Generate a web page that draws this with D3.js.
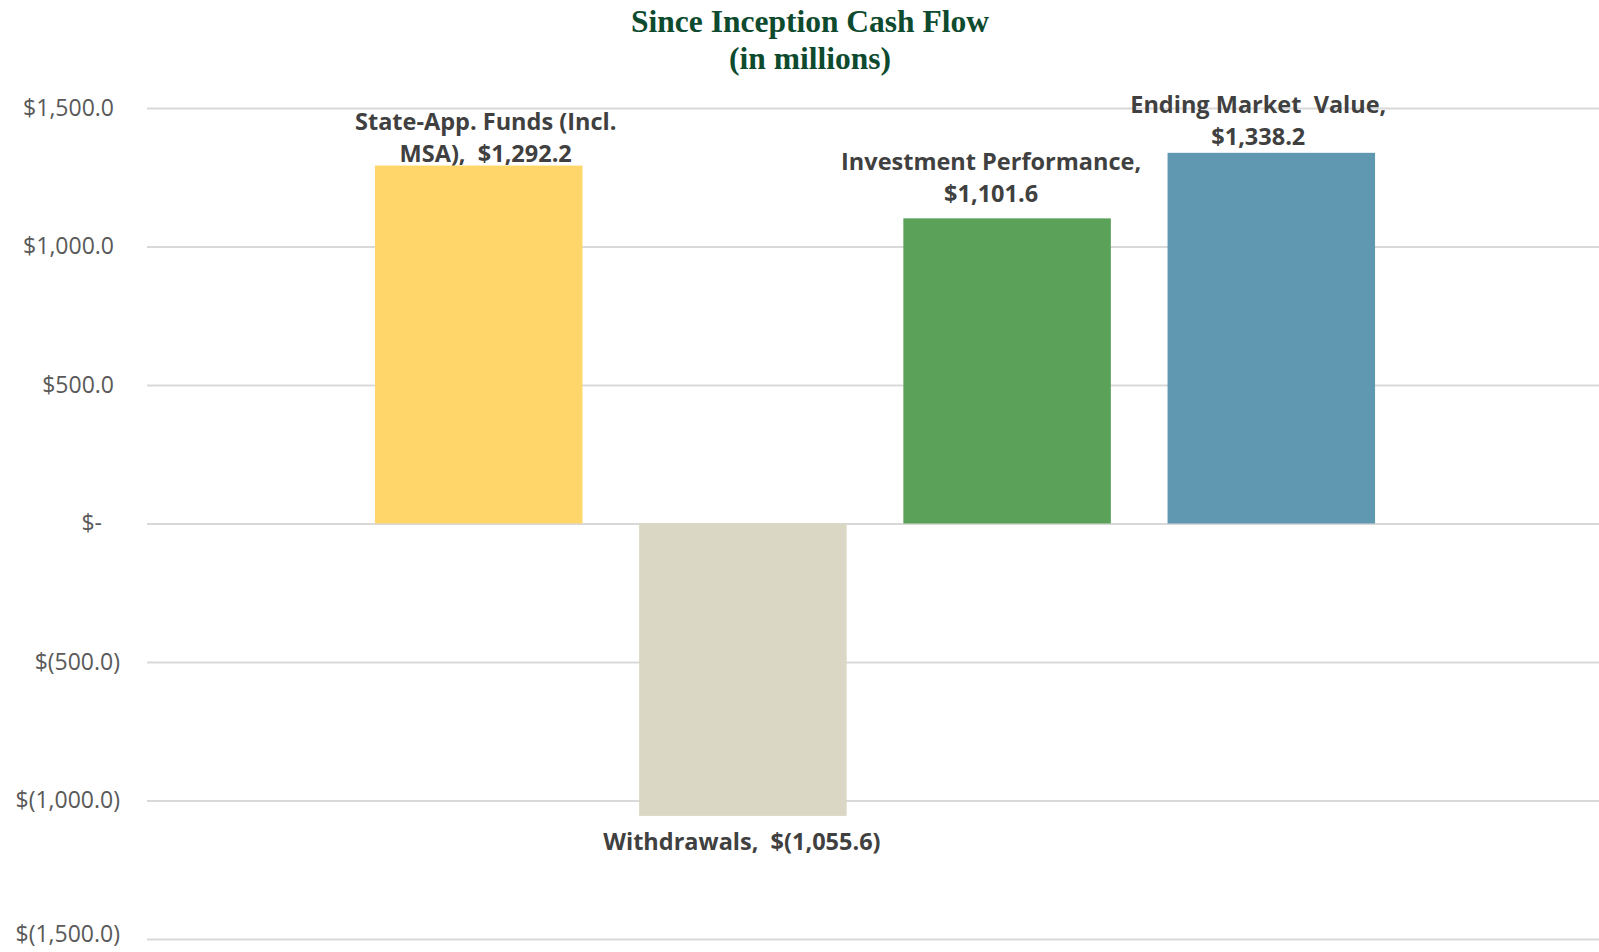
<!DOCTYPE html>
<html>
<head>
<meta charset="utf-8">
<script src="https://cdn.jsdelivr.net/npm/d3@7"></script>
<style>
  html, body { margin: 0; padding: 0; background: #ffffff; }
  svg { display: block; }
  text { white-space: pre; }
</style>
</head>
<body>
<svg id="chart" width="1599" height="952"></svg>
<script>
// Since-inception cash flow components, in millions of dollars
const categories = ["State-App. Funds (Incl. MSA)", "Withdrawals", "Investment Performance", "Ending Market Value"];
const values = [1292.2, -1055.6, 1101.6, 1338.2];
const barColors = ["#FED66A", "#DAD7C4", "#5CA15A", "#6198B1"];
// Data label lines as they are broken in the chart
const labelLines = [
  ["State-App. Funds (Incl.", "MSA),  $1,292.2"],
  ["Withdrawals,  $(1,055.6)"],
  ["Investment Performance,", "$1,101.6"],
  ["Ending Market  Value,", "$1,338.2"]
];
const tickValues = [1500, 1000, 500, 0, -500, -1000, -1500];
const tickLabels = ["$1,500.0", "$1,000.0", "$500.0", "$-", "$(500.0)", "$(1,000.0)", "$(1,500.0)"];
const titleLines = ["Since Inception Cash Flow", "(in millions)"];

const svg = d3.select("#chart");
const plot = { left: 147, right: 1599, top: 108, bottom: 939 };

const y = d3.scaleLinear().domain([-1500, 1500]).range([plot.bottom, plot.top]);
const x = d3.scaleBand().domain(categories)
  .range([346.6, 1403.4]).paddingInner(0.2146).paddingOuter(0.1073);

// Title
svg.append("g").selectAll("text").data(titleLines).join("text")
  .attr("x", 810).attr("y", (d, i) => 31.5 + i * 37)
  .attr("text-anchor", "middle")
  .attr("font-family", "'Liberation Serif', 'DejaVu Serif', serif")
  .attr("font-weight", "bold").attr("font-size", 31.5)
  .attr("fill", "#0D4A2E")
  .text(d => d);

// Gridlines and y axis labels (accounting-style alignment: positives leave
// room for a closing parenthesis, the zero dash sits further left)
const yAxis = d3.axisLeft(y).tickValues(tickValues)
  .tickFormat((d, i) => tickLabels[i])
  .tickSize(-(plot.right - plot.left)).tickPadding(27);
const gAxis = svg.append("g").attr("transform", `translate(${plot.left},0)`).call(yAxis);
gAxis.select(".domain").remove();
gAxis.selectAll(".tick line").attr("stroke", "#D9D9D9").attr("stroke-width", 2);
gAxis.selectAll(".tick text")
  .attr("font-family", "'Open Sans', sans-serif").attr("font-size", 23)
  .attr("fill", "#595959")
  .attr("dx", d => d > 0 ? -6 : (d === 0 ? -18 : 0))
  .attr("y", (d, i) => i === tickValues.length - 1 ? -5 : 0);

// Bars
svg.append("g").selectAll("rect").data(values).join("rect")
  .attr("x", (d, i) => x(categories[i]))
  .attr("width", x.bandwidth())
  .attr("y", d => y(Math.max(0, d)))
  .attr("height", d => Math.abs(y(d) - y(0)))
  .attr("fill", (d, i) => barColors[i]);

// Data labels
const labelNudge = [7, -1, -16, -13];   // horizontal shift from bar centre
const labelGap = [4, 0, 16.5, 8];       // space between last line and bar end
const lineH = 31.5;
const gLabels = svg.append("g")
  .attr("font-family", "'Open Sans', sans-serif").attr("font-weight", "bold")
  .attr("font-size", 23.5).attr("fill", "#404040").attr("text-anchor", "middle");
values.forEach((v, i) => {
  const cx = x(categories[i]) + x.bandwidth() / 2 + labelNudge[i];
  const lines = labelLines[i];
  lines.forEach((t, j) => {
    let yy;
    if (v >= 0) {
      yy = y(v) - labelGap[i] - (lines.length - 1 - j) * lineH;
    } else {
      yy = y(v) + 34 + j * lineH;
    }
    gLabels.append("text").attr("x", cx).attr("y", yy).text(t);
  });
});
</script>
</body>
</html>
